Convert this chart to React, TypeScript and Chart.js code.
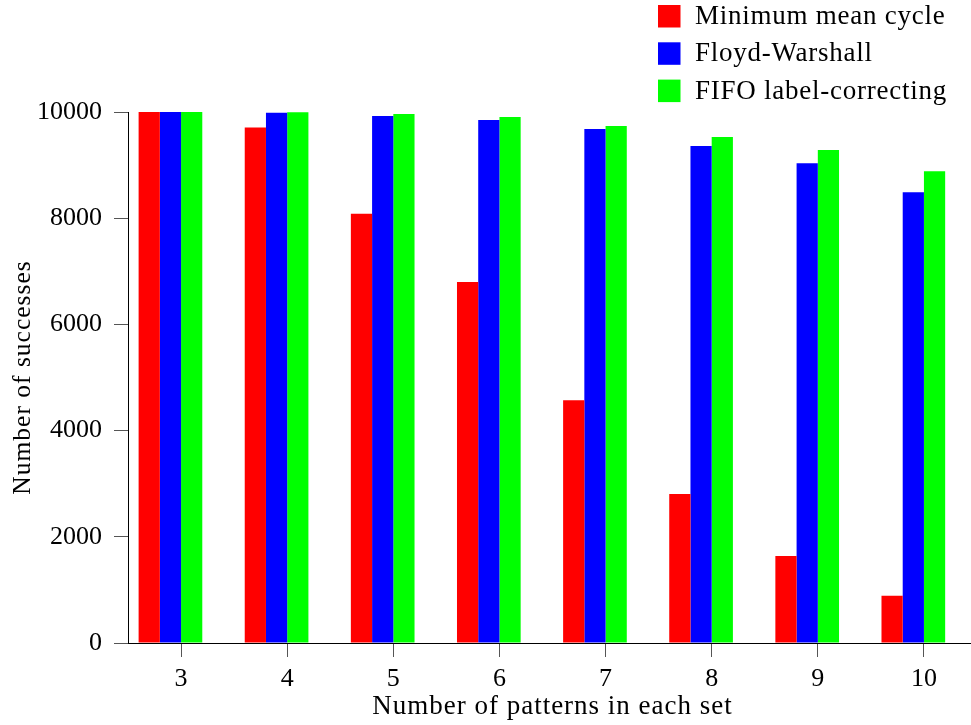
import React, { useEffect, useRef } from "react";
import { Chart, registerables } from "chart.js";

Chart.register(...registerables);

// Number of patterns in each set
const patternCounts = ["3", "4", "5", "6", "7", "8", "9", "10"];

// Successes out of 10000 runs for each method
const minimumMeanCycle = [10000, 9710, 8085, 6800, 4570, 2806, 1638, 888];
const floydWarshall = [10000, 9985, 9925, 9849, 9680, 9360, 9034, 8488];
const fifoLabelCorrecting = [10000, 9995, 9962, 9906, 9736, 9529, 9284, 8883];

const seriesNames = ["Minimum mean cycle", "Floyd-Warshall", "FIFO label-correcting"];
const seriesColors = ["#ff0000", "#0000ff", "#00ff00"];

const yTickValues = [0, 2000, 4000, 6000, 8000, 10000];

const SERIF = "'Liberation Serif', 'Times New Roman', serif";
const CANVAS_W = 985;
const CANVAS_H = 725;

// Titles and legend get a touch of tracking; tick numbers (drawn on a
// later layer) are set without it.
const textTracking = {
  id: "textTracking",
  beforeDraw(chart: any) {
    (chart.ctx as any).letterSpacing = "1px";
  },
  beforeDatasetsDraw(chart: any) {
    (chart.ctx as any).letterSpacing = "0px";
  },
};

// Legend stacked in the top-right corner, above the plot area
const cornerLegend = {
  id: "cornerLegend",
  afterDraw(chart: any) {
    const ctx = chart.ctx as CanvasRenderingContext2D;
    ctx.save();
    (ctx as any).letterSpacing = "0.75px";
    ctx.font = `27px ${SERIF}`;
    ctx.textBaseline = "middle";
    ctx.textAlign = "left";
    chart.data.datasets.forEach((ds: any, i: number) => {
      if (!ds.label) return;
      const top = 5 + i * 37.3;
      ctx.fillStyle = ds.backgroundColor;
      ctx.fillRect(658, top, 22.5, 22.5);
      ctx.fillStyle = "#000";
      ctx.fillText(ds.label, 695, top + 12);
    });
    ctx.restore();
  },
};

export default function App() {
  const canvasRef = useRef<HTMLCanvasElement | null>(null);

  useEffect(() => {
    if (!canvasRef.current) return;
    const seriesData = [minimumMeanCycle, floydWarshall, fifoLabelCorrecting];
    const datasets: any[] = seriesData.map((data, i) => ({
      label: seriesNames[i],
      data,
      backgroundColor: seriesColors[i],
      borderWidth: 0,
    }));
    // empty fourth slot so each category tick sits between the 2nd and 3rd bar
    datasets.push({
      label: "",
      data: patternCounts.map(() => null),
      backgroundColor: "rgba(0,0,0,0)",
      borderWidth: 0,
    });

    const chart = new Chart(canvasRef.current, {
      type: "bar",
      data: { labels: patternCounts, datasets },
      plugins: [textTracking, cornerLegend],
      options: {
        animation: false,
        responsive: false,
        maintainAspectRatio: false,
        devicePixelRatio: 1,
        layout: { padding: { top: 112, right: 8, bottom: 0, left: 0 } },
        datasets: {
          bar: { categoryPercentage: 0.8, barPercentage: 1.0 },
        },
        plugins: {
          legend: { display: false },
          tooltip: { enabled: false },
          title: { display: false },
        },
        scales: {
          x: {
            type: "category",
            offset: true,
            afterFit: (scale: any) => {
              scale.height = 82;
            },
            grid: {
              offset: false,
              drawOnChartArea: false,
              drawTicks: true,
              tickLength: 14,
              tickColor: "#555",
              tickWidth: 1,
            },
            border: { display: true, color: "#000", width: 1 },
            ticks: {
              z: 1,
              color: "#000",
              font: { family: SERIF, size: 26 },
              padding: 7,
              maxRotation: 0,
            },
            title: {
              display: true,
              text: "Number of patterns in each set",
              color: "#000",
              font: { family: SERIF, size: 27 },
              padding: { top: 0, bottom: 2 },
            },
          },
          y: {
            type: "linear",
            min: 0,
            max: 10000,
            afterFit: (scale: any) => {
              scale.width = 128;
            },
            afterBuildTicks: (scale: any) => {
              scale.ticks = yTickValues.map((v) => ({ value: v }));
            },
            grid: {
              drawOnChartArea: false,
              drawTicks: true,
              tickLength: 14,
              tickColor: "#555",
              tickWidth: 1,
            },
            border: { display: true, color: "#000", width: 1 },
            ticks: {
              z: 1,
              color: "#000",
              font: { family: SERIF, size: 26 },
              padding: 12,
              callback: (v: any) => String(v),
            },
            title: {
              display: true,
              text: "Number of successes",
              color: "#000",
              font: { family: SERIF, size: 25.5 },
              padding: { top: 8, bottom: 0 },
            },
          },
        },
      },
    } as any);

    return () => chart.destroy();
  }, []);

  return (
    <div
      style={{
        position: "fixed",
        left: 0,
        top: 0,
        width: 971,
        height: 725,
        overflow: "hidden",
        background: "#fff",
      }}
    >
      <canvas
        ref={canvasRef}
        width={CANVAS_W}
        height={CANVAS_H}
        style={{ display: "block", width: CANVAS_W, height: CANVAS_H }}
      />
    </div>
  );
}
